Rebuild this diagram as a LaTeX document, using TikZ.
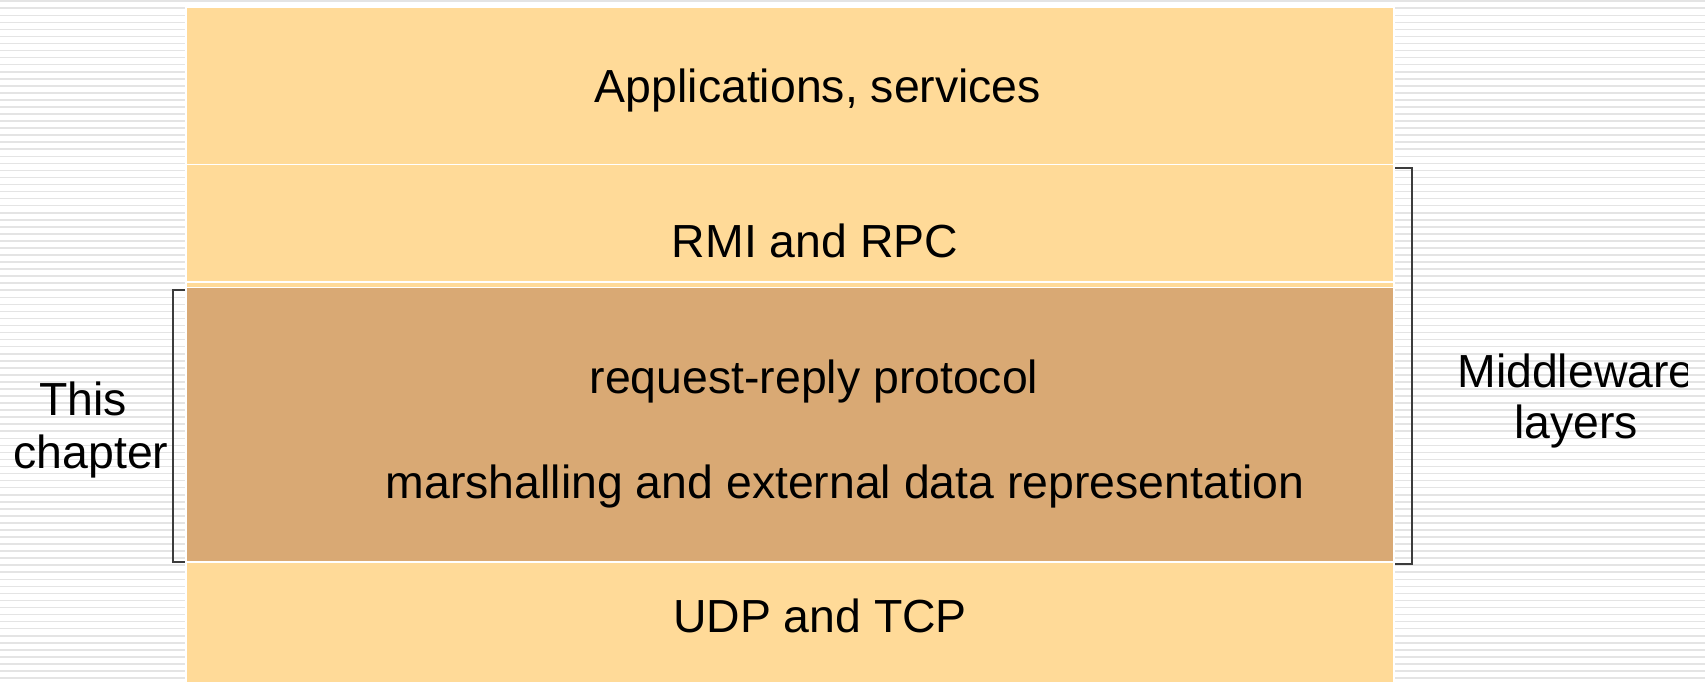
\documentclass[tikz,border=0pt]{standalone}
\usepackage{fontspec}
\setmainfont{Liberation Sans}
\definecolor{lightlayer}{RGB}{255,218,152}
\definecolor{darklayer}{RGB}{217,169,116}
\definecolor{stripecol}{RGB}{228,228,228}
\definecolor{bracketcol}{RGB}{60,60,60}
\tikzset{
  lbl/.style={font=\fontsize{23.2pt}{25pt}\selectfont, inner sep=0pt, anchor=base, text=black},
  stripe/.style={draw=stripecol, line width=0.8pt},
  sep/.style={draw=white!80!lightlayer, line width=0.6pt},
  brk/.style={draw=bracketcol, line width=0.7pt},
}
\begin{document}
\begin{tikzpicture}[x=0.5pt,y=-0.5pt]
\useasboundingbox (0,0) rectangle (1705,682);
\fill[white] (0,0) rectangle (1705,682);
\foreach \k in {0,...,96} {\draw[stripe] (0,{1.2+7.05*\k}) -- (1705,{1.2+7.05*\k});}
% white halo around stack
\fill[white] (185,5) rectangle (1395,682);
% layers
\fill[lightlayer] (187,7.5) rectangle (1393,164);
\fill[lightlayer] (187,165) rectangle (1393,281);
\fill[lightlayer] (187,282.5) rectangle (1393,286.5);
\fill[darklayer] (187,288) rectangle (1393,561);
\fill[lightlayer] (187,562.5) rectangle (1393,682);
% brackets
\coordinate (rt) at (1395,168);
\coordinate (rb) at (1395,564);
\draw[brk] (rt) -- (1412,168) -- (1412,564) -- (rb);
\coordinate (lt) at (185,290);
\coordinate (lb) at (185,562);
\draw[brk] (lt) -- (173,290) -- (173,562) -- (lb);
% texts
\node[lbl] (app) at (818,102) {Applications, services};
\node[lbl] (rmi) at (815,257) {RMI and RPC};
\node[lbl] (rrp) at (814,393) {request-reply protocol};
\node[lbl] (mar) at (845,498) {marshalling and external data representation};
\node[lbl] (udp) at (820,632) {UDP and TCP};
\node[lbl] (this) at (83,415) {This};
\node[lbl] (chap) at (91,468) {chapter};
\begin{scope}
\clip (1420,0) rectangle (1687,682);
\node[lbl] (mid) at (1576,387) {Middleware};
\node[lbl] (lay) at (1576,438) {layers};
\end{scope}
\end{tikzpicture}
\end{document}
